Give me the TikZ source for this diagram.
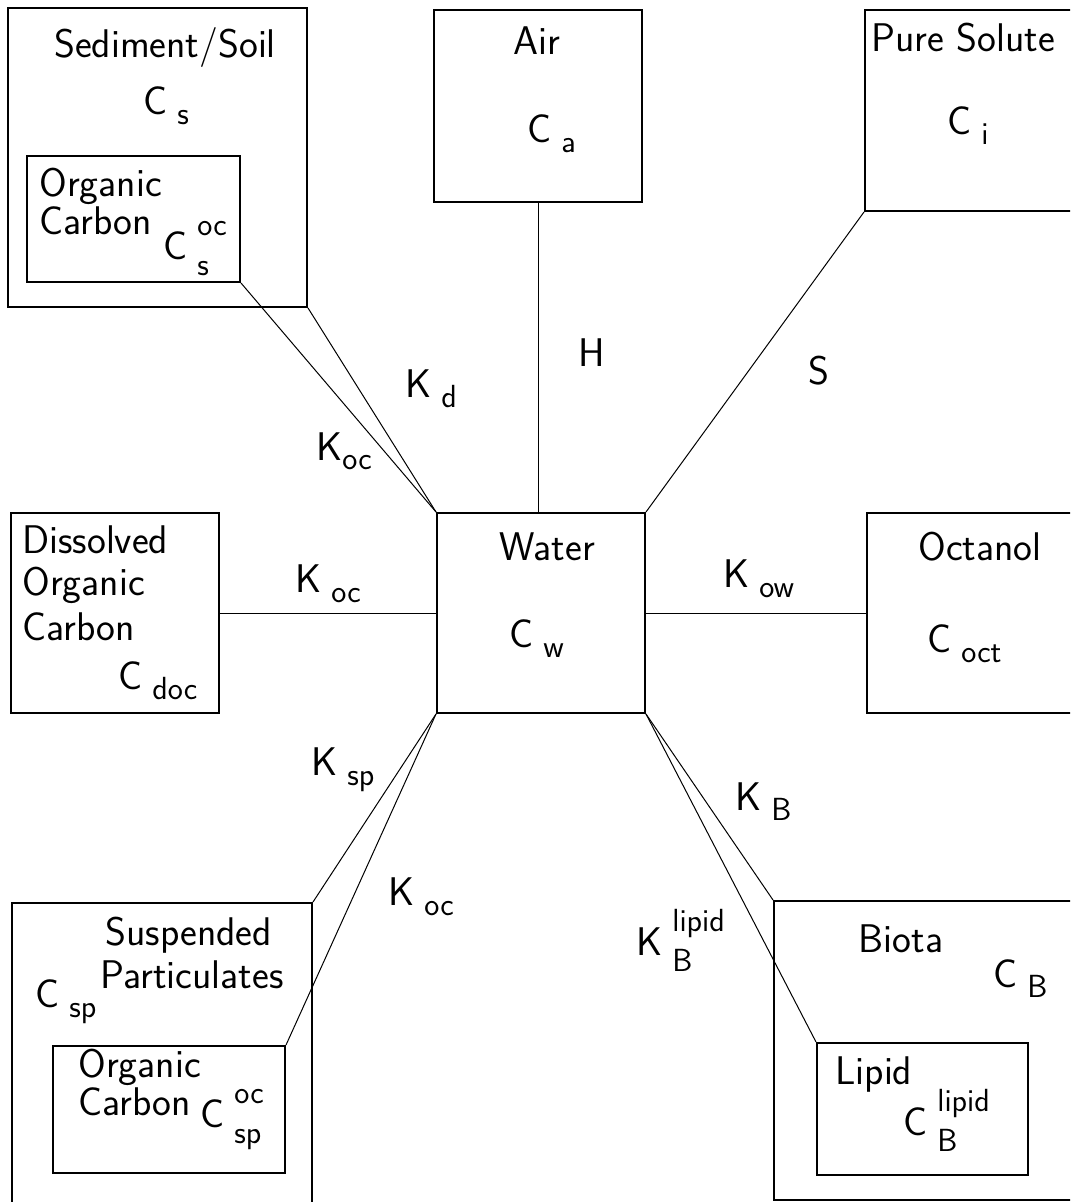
\documentclass[tikz,border=0pt]{standalone}
\usetikzlibrary{fit}
\newcommand\mainfont{\fontsize{20}{24}\selectfont\sffamily}
\newcommand\subfont{\fontsize{16}{19}\selectfont}
% base letter with a lowered index
\newcommand\Sub[2]{#1\hspace{0.25em}\raisebox{-5pt}{\subfont #2}}
% base letter with a raised and a lowered index stacked on the right
\newcommand\SupSub[3]{#1\hspace{0.25em}\makebox[0pt][l]{\raisebox{12pt}{\subfont #2}}\raisebox{-8pt}{\subfont #3}}
\begin{document}
\begin{tikzpicture}[x=0.5pt,y=-0.5pt,
  box/.style={draw, line width=1pt, inner sep=0pt},
  link/.style={line width=0.5pt},
  lbl/.style={inner sep=0pt, anchor=base west, font=\mainfont},
  lblc/.style={inner sep=0pt, anchor=base, font=\mainfont}]
\clip (0,0) rectangle (1070,1202);

% compartments
\node[box, fit={(8,8)(307,307)}] (sed) {};
\node[box, fit={(27,156)(240,282)}] (sedoc) {};
\node[box, fit={(434,10)(642,202)}] (air) {};
\node[box, fit={(865,10)(1090,211)}] (pure) {};
\node[box, fit={(11,513)(219,713)}] (doc) {};
\node[box, fit={(437,513)(645,713)}] (water) {};
\node[box, fit={(867,513)(1090,713)}] (oct) {};
\node[box, fit={(12,903)(312,1215)}] (sp) {};
\node[box, fit={(53,1046)(285,1173)}] (spoc) {};
\node[box, fit={(774,901)(1090,1200)}] (biota) {};
\node[box, fit={(817,1043)(1028,1175)}] (lipid) {};

% partitioning links
\draw[link] (air.south) -- (air.south |- water.north);
\draw[link] (pure.south west) -- (water.north east);
\draw[link] (sed.south east) -- (water.north west);
\draw[link] (sedoc.south east) -- (water.north west);
\draw[link] (doc.east) -- (water.west);
\draw[link] (water.east) -- (oct.west);
\draw[link] (water.south west) -- (sp.north east);
\draw[link] (water.south west) -- (spoc.north east);
\draw[link] (water.south east) -- (biota.north west);
\draw[link] (water.south east) -- (lipid.north west);

% compartment texts
\node[lblc] (tsed) at (165,58) {Sediment/Soil};
\node[lbl] (tcs) at (143,115) {\Sub{C}{s}};
\node[lbl] (tsedorg) at (39,197) {Organic};
\node[lbl] (tsedcarb) at (39,235) {Carbon};
\node[lbl] (tcsoc) at (163,260) {\SupSub{C}{oc}{s}};
\node[lblc] (tair) at (537,55) {Air};
\node[lbl] (tca) at (527,143) {\Sub{C}{a}};
\node[lbl] (tpure) at (871,52) {Pure Solute};
\node[lbl] (tci) at (947,135) {\Sub{C}{i}};
\node[lbl] (tdis) at (22,553) {Dissolved};
\node[lbl] (tdocorg) at (22,595) {Organic};
\node[lbl] (tdoccarb) at (22,640) {Carbon};
\node[lbl] (tcdoc) at (118,689) {\Sub{C}{doc}};
\node[lblc] (twater) at (547,560) {Water};
\node[lbl] (tcw) at (509,647) {\Sub{C}{w}};
\node[lblc] (toct) at (980,560) {Octanol};
\node[lbl] (tcoct) at (927,652) {\Sub{C}{oct}};
\node[lbl] (tsusp) at (105,945) {Suspended};
\node[lbl] (tpart) at (100,988) {Particulates};
\node[lbl] (tcsp) at (35,1007) {\Sub{C}{sp}};
\node[lbl] (tsporg) at (78,1077) {Organic};
\node[lbl] (tspcarb) at (78,1115) {Carbon};
\node[lbl] (tcspoc) at (200,1127) {\SupSub{C}{oc}{sp}};
\node[lblc] (tbiota) at (901,952) {Biota};
\node[lbl] (tcb) at (993,987) {\Sub{C}{B}};
\node[lbl] (tlipid) at (835,1084) {Lipid};
\node[lbl] (tcbl) at (903,1135) {\SupSub{C}{lipid}{B}};

% link labels
\node[lbl] (th) at (578,367) {H};
\node[lbl] (ts) at (808,385) {S};
\node[lbl] (tkd) at (405,398) {\Sub{K}{d}};
\node[lbl] (tkoca) at (316,460) {K\raisebox{-5pt}{\subfont oc}};
\node[lbl] (tkocb) at (295,592) {\Sub{K}{oc}};
\node[lbl] (tkow) at (723,587) {\Sub{K}{ow}};
\node[lbl] (tksp) at (311,775) {\Sub{K}{sp}};
\node[lbl] (tkocc) at (388,905) {\Sub{K}{oc}};
\node[lbl] (tkb) at (735,810) {\Sub{K}{B}};
\node[lbl] (tkbl) at (636,955) {\SupSub{K}{lipid}{B}};
\end{tikzpicture}
\end{document}
